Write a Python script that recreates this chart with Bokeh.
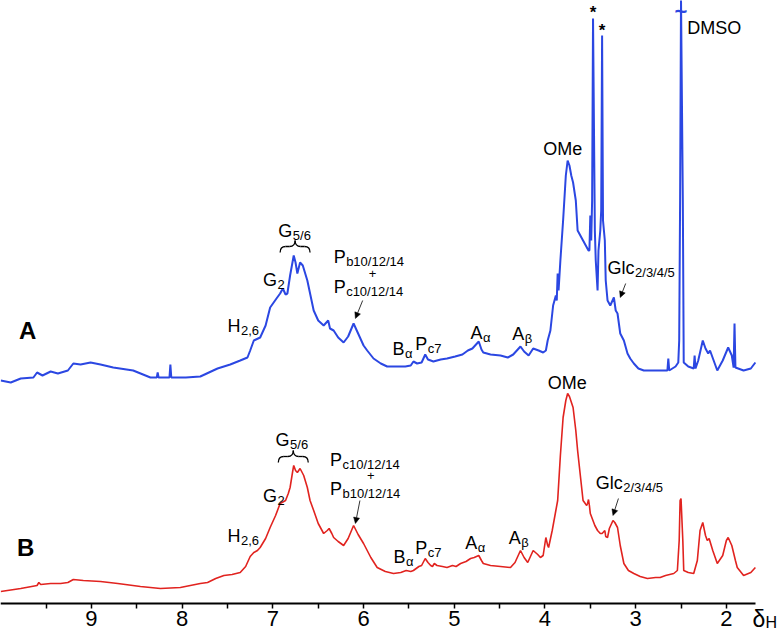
import numpy as np
from bokeh.plotting import figure
from bokeh.models import Range1d, FixedTicker, Arrow, NormalHead, ColumnDataSource
from bokeh.core.properties import value
from bokeh.embed import file_html
from bokeh.resources import INLINE

# ---------------- data (chemical shift in ppm, relative intensity) ----------------
shift_A = [10.00, 9.89, 9.78, 9.64, 9.60, 9.54, 9.45, 9.37, 9.26, 9.20, 9.12, 9.01, 8.90, 8.76, 8.54,
           8.35, 8.28, 8.27, 8.26, 8.14, 8.13, 8.12, 7.96, 7.80, 7.61, 7.47, 7.36, 7.28, 7.25, 7.21,
           7.14, 7.08, 7.03, 6.96, 6.92, 6.89, 6.86, 6.84, 6.81, 6.77, 6.75, 6.73, 6.70, 6.67, 6.62,
           6.55, 6.50, 6.44, 6.39, 6.37, 6.33, 6.28, 6.22, 6.17, 6.11, 6.06, 6.00, 5.96, 5.89, 5.81,
           5.74, 5.65, 5.54, 5.48, 5.45, 5.41, 5.36, 5.32, 5.29, 5.23, 5.15, 5.08, 4.99, 4.91, 4.85,
           4.80, 4.77, 4.73, 4.70, 4.68, 4.60, 4.49, 4.41, 4.35, 4.27, 4.23, 4.18, 4.13, 4.07, 4.02,
           3.99, 3.97, 3.94, 3.91, 3.88, 3.87, 3.86, 3.85, 3.83, 3.80, 3.77, 3.75, 3.73, 3.71, 3.69,
           3.66, 3.64, 3.61, 3.58, 3.55, 3.52, 3.51, 3.50, 3.49, 3.48, 3.47, 3.45, 3.44, 3.42, 3.41,
           3.39, 3.38, 3.37, 3.36, 3.34, 3.33, 3.31, 3.28, 3.24, 3.22, 3.20, 3.17, 3.13, 3.09, 3.06,
           3.02, 2.97, 2.91, 2.78, 2.65, 2.64, 2.63, 2.56, 2.53, 2.52, 2.51, 2.50, 2.48, 2.47, 2.42,
           2.36, 2.35, 2.34, 2.31, 2.26, 2.23, 2.20, 2.18, 2.14, 2.10, 2.04, 1.98, 1.94, 1.92, 1.91,
           1.90, 1.81, 1.73, 1.68]
intensity_A = [3, 1, 5, 6, 11, 8, 12, 10, 13, 20, 19, 21, 19, 16, 13,
               6, 6, 11, 6, 6, 19, 6, 6, 7, 15, 19, 23, 26, 33, 43,
               46, 58, 76, 85, 90, 95, 89, 90, 108, 128, 121, 110, 121, 118, 103,
               73, 63, 58, 63, 55, 53, 46, 41, 47, 60, 50, 38, 33, 25, 20,
               17, 17, 17, 18, 22, 20, 21, 29, 24, 22, 24, 25, 27, 29, 33,
               35, 38, 42, 34, 31, 29, 28, 26, 29, 37, 32, 28, 35, 33, 31,
               33, 43, 53, 78, 88, 83, 110, 93, 123, 163, 208, 223, 218, 208, 201,
               183, 153, 148, 143, 138, 133, 133, 168, 143, 183, 365, 153, 123, 93, 133,
               153, 173, 348, 163, 143, 103, 83, 78, 86, 73, 70, 50, 43, 30, 25,
               20, 15, 13, 13, 13, 25, 13, 17, 21, 43, 183, 385, 183, 21, 17,
               15, 28, 15, 23, 43, 35, 30, 33, 23, 13, 23, 36, 28, 16, 60,
               16, 13, 15, 21]

shift_B = [10.00, 9.78, 9.60, 9.58, 9.56, 9.45, 9.34, 9.26, 9.20, 9.09, 8.90, 8.71, 8.46, 8.24, 8.02,
           7.80, 7.72, 7.63, 7.54, 7.45, 7.36, 7.30, 7.25, 7.21, 7.17, 7.14, 7.08, 7.03, 6.97, 6.92,
           6.86, 6.83, 6.81, 6.78, 6.77, 6.75, 6.73, 6.70, 6.66, 6.62, 6.59, 6.55, 6.50, 6.44, 6.40,
           6.38, 6.35, 6.33, 6.28, 6.22, 6.17, 6.11, 6.06, 6.00, 5.92, 5.85, 5.76, 5.67, 5.59, 5.53,
           5.48, 5.45, 5.39, 5.36, 5.32, 5.29, 5.26, 5.24, 5.22, 5.19, 5.13, 5.08, 5.02, 4.98, 4.93,
           4.87, 4.82, 4.78, 4.73, 4.70, 4.68, 4.60, 4.49, 4.38, 4.33, 4.27, 4.23, 4.19, 4.16, 4.13,
           4.08, 4.05, 4.02, 3.99, 3.97, 3.96, 3.92, 3.88, 3.86, 3.83, 3.80, 3.77, 3.75, 3.73, 3.69,
           3.66, 3.64, 3.61, 3.58, 3.54, 3.53, 3.52, 3.51, 3.50, 3.45, 3.42, 3.39, 3.37, 3.34, 3.33,
           3.31, 3.29, 3.25, 3.23, 3.20, 3.17, 3.13, 3.08, 3.02, 2.95, 2.87, 2.78, 2.73, 2.67, 2.58,
           2.54, 2.52, 2.51, 2.50, 2.48, 2.47, 2.42, 2.36, 2.32, 2.29, 2.26, 2.23, 2.21, 2.19, 2.15,
           2.10, 2.04, 2.00, 1.98, 1.94, 1.90, 1.88, 1.81, 1.73, 1.68]
intensity_B = [4, 7, 10, 13, 11, 12, 12, 13, 16, 15, 14, 12, 9, 7, 8,
               12, 13, 17, 20, 21, 23, 29, 39, 43, 45, 48, 57, 68, 80, 92,
               95, 102, 108, 125, 130, 125, 123, 127, 120, 108, 95, 85, 72, 62, 65,
               67, 62, 58, 54, 50, 57, 70, 61, 52, 38, 28, 24, 22, 23, 25,
               24, 25, 29, 30, 37, 33, 30, 29, 32, 30, 29, 28, 30, 29, 32,
               34, 37, 38, 40, 35, 32, 30, 29, 28, 33, 45, 38, 33, 39, 45,
               41, 38, 40, 58, 50, 48, 65, 85, 95, 140, 178, 195, 202, 199, 188,
               165, 145, 120, 95, 90, 92, 96, 90, 82, 70, 65, 62, 62, 65, 59,
               58, 67, 75, 73, 68, 50, 32, 25, 22, 19, 17, 18, 18, 20, 22,
               25, 55, 95, 97, 55, 25, 23, 22, 35, 65, 73, 60, 55, 57, 45,
               32, 40, 55, 58, 50, 35, 28, 20, 23, 28]

tick_values = [2, 3, 4, 5, 6, 7, 8, 9]
minor_tick_values = [2.5, 3.5, 4.5, 5.5, 6.5, 7.5, 8.5, 9.5]

# ---------------- style ----------------
FONT = "Liberation Sans"
BLUE = "#2b47e2"
RED = "#e1231f"
OFFSET_A = 220
OFFSET_B = 8
MAIN_PX = 18
SUB_PX = 13
ARIAL_W = {'H': .722, 'G': .778, 'P': .667, 'B': .667, 'A': .667, 'O': .778, 'M': .833,
           'e': .556, 'l': .222, 'c': .5, 'D': .722, 'S': .667}

p = figure(width=782, height=635, output_backend="svg", toolbar_location=None,
           x_range=Range1d(10.003, 1.381), y_range=Range1d(-32, 603),
           min_border_left=0, min_border_right=0, min_border_top=0, min_border_bottom=0,
           y_axis_location=None)
p.xgrid.visible = False
p.ygrid.visible = False
p.outline_line_color = None
p.background_fill_color = "white"
p.border_fill_color = "white"

ax = p.xaxis[0]
ax.fixed_location = 0
ax.ticker = FixedTicker(ticks=tick_values, minor_ticks=minor_tick_values)
ax.bounds = (1.68, 10.003)
ax.axis_line_width = 2
ax.axis_line_color = "black"
ax.major_tick_line_width = 1.5
ax.minor_tick_line_width = 1.5
ax.major_tick_out = 5
ax.major_tick_in = 0
ax.minor_tick_out = 5
ax.minor_tick_in = 0
ax.major_label_standoff = 2
ax.major_label_text_font = FONT
ax.major_label_text_font_size = "22px"
ax.major_label_text_color = "black"

yA = [v + OFFSET_A for v in intensity_A]
yB = [v + OFFSET_B for v in intensity_B]
p.line(shift_A, yA, line_color=BLUE, line_width=2)
p.line(shift_B, yB, line_color=RED, line_width=1.6)

# ---------------- labels ----------------
# (main, sub, ppm of left edge, y center)
labels = [
    ("H", "2,6", 7.50, 278), ("G", "2", 7.11, 324), ("G", "5/6", 6.94, 373),
    ("P", "b10/12/14", 6.33, 347), ("P", "c10/12/14", 6.33, 317),
    ("B", "\u03b1", 5.68, 255), ("P", "c7", 5.43, 260), ("A", "\u03b1", 4.82, 271),
    ("A", "\u03b2", 4.36, 270), ("OMe", "", 4.02, 455), ("Glc", "2/3/4/5", 3.31, 336),
    ("DMSO", "", 2.43, 576),
    ("H", "2,6", 7.50, 68), ("G", "2", 7.11, 108), ("G", "5/6", 6.97, 164),
    ("P", "c10/12/14", 6.37, 144), ("P", "b10/12/14", 6.37, 115),
    ("B", "\u03b1", 5.67, 47), ("P", "c7", 5.43, 56), ("A", "\u03b1", 4.88, 61),
    ("A", "\u03b2", 4.40, 66), ("OMe", "", 3.97, 221), ("Glc", "2/3/4/5", 3.44, 121),
]
main = dict(x=[], y=[], text=[])
sub = dict(x=[], y=[], text=[], xoff=[])
for m, s, x, y in labels:
    main["x"].append(x); main["y"].append(y); main["text"].append(m)
    if s:
        sub["x"].append(x); sub["y"].append(y); sub["text"].append(s)
        sub["xoff"].append(sum(ARIAL_W[c] for c in m) * MAIN_PX + 0.5)
p.text(x="x", y="y", text="text", source=ColumnDataSource(main), text_font=value(FONT),
       text_font_size=f"{MAIN_PX}px", text_align="left", text_baseline="middle", text_color="black")
p.text(x="x", y="y", text="text", x_offset="xoff", y_offset=5, source=ColumnDataSource(sub),
       text_font=value(FONT), text_font_size=f"{SUB_PX}px", text_align="left",
       text_baseline="middle", text_color="black")

# plus signs
p.text(x=[5.90, 5.92], y=[330, 128], text=["+", "+"], text_font=value(FONT), text_font_size="13px",
       text_align="center", text_baseline="middle", text_color="black")
# panel letters
p.text(x=[9.80, 9.82], y=[273, 56], text=["A", "B"], text_font=value(FONT), text_font_size="24px",
       text_font_style="bold", text_align="left", text_baseline="middle", text_color="black")
# asterisks
p.text(x=[3.47, 3.37], y=[591, 573], text=["*", "*"], text_font=value(FONT), text_font_size="17px",
       text_font_style="bold", text_align="center", text_baseline="middle", text_color="black")
# DMSO break mark
p.text(x=[2.50], y=[592], text=["~"], text_font=value(FONT), text_font_size="22px",
       text_font_style="bold", text_align="center", text_baseline="middle", text_color=BLUE)

# braces over G5/6
def brace(L, R, ybot, ytop):
    C = (L + R) / 2
    q = 0.06
    ym = (ybot + ytop) / 2
    p.quadratic(x0=[L, C + q, C, R + q], y0=[ybot, ym, ytop, ym],
                x1=[L - q, C, C - q, R], y1=[ym, ytop, ym, ybot],
                cx=[L, C, C, R], cy=[ym, ym, ym, ym], line_color="black", line_width=1.3)
    p.segment(x0=[L - q, C - q], y0=[ym, ym], x1=[C + q, R + q], y1=[ym, ym],
              line_color="black", line_width=1.3)

brace(6.92, 6.59, 351, 363)
brace(6.94, 6.61, 141, 153)

# arrows
for xs, ys, xe, ye in [(6.01, 303, 6.09, 285), (6.04, 103, 6.09, 80),
                       (3.11, 320, 3.17, 306), (3.19, 105, 3.25, 88)]:
    p.add_layout(Arrow(end=NormalHead(size=6, line_color="black", fill_color="black", line_width=0.5),
                       x_start=xs, y_start=ys, x_end=xe, y_end=ye, line_width=0.8, line_color="black"))

# axis unit label (delta_H)
p.text(x=[1.712], y=[-15], text=["\u03b4"], text_font=value(FONT), text_font_size="23px",
       text_align="left", text_baseline="middle", text_color="black")
p.text(x=[1.712], y=[-15], x_offset=13, y_offset=4, text=["H"], text_font=value(FONT),
       text_font_size="16px", text_align="left", text_baseline="middle", text_color="black")

open("out.html", "w").write(file_html(p, INLINE))
